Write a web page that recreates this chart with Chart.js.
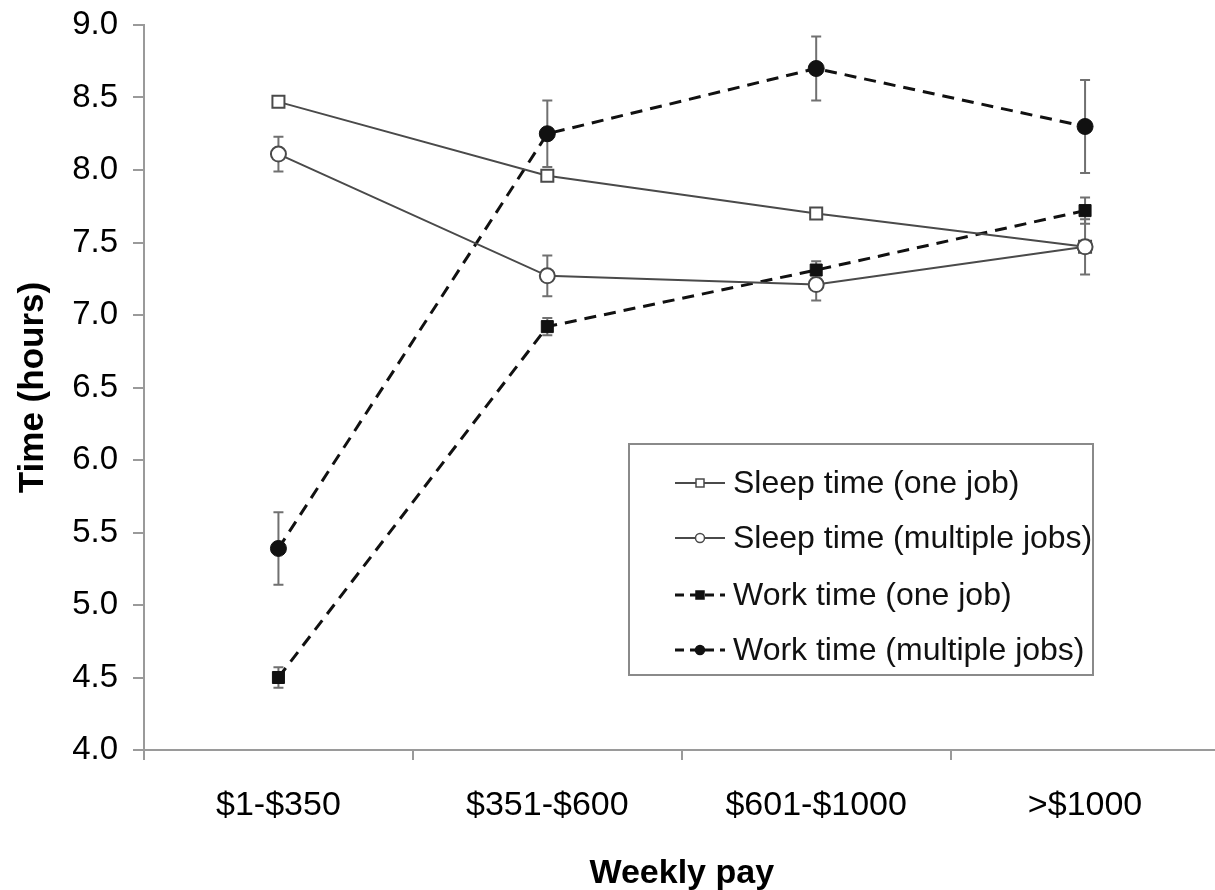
<!DOCTYPE html>
<html>
<head>
<meta charset="utf-8">
<script src="https://cdn.jsdelivr.net/npm/chart.js@4/dist/chart.umd.min.js"></script>
<style>
  html, body { margin: 0; padding: 0; background: #fff; overflow: hidden; }
  #wrap { width: 1215px; height: 890px; overflow: hidden; }
  canvas { display: block; }
</style>
</head>
<body>
<div id="wrap"><canvas id="c" width="1230" height="890"></canvas></div>
<script>
// Weekly pay bands
const categories = ['$1-$350', '$351-$600', '$601-$1000', '>$1000'];

// Mean hours per day
const sleepOneJob = [8.47, 7.96, 7.70, 7.47];
const sleepMultipleJobs = [8.11, 7.27, 7.21, 7.47];
const workOneJob = [4.50, 6.92, 7.31, 7.72];
const workMultipleJobs = [5.39, 8.25, 8.70, 8.30];

// Standard errors
const sleepOneJobErr = [0.02, 0.03, 0.03, 0.03];
const sleepMultipleJobsErr = [0.12, 0.14, 0.11, 0.19];
const workOneJobErr = [0.07, 0.06, 0.06, 0.09];
const workMultipleJobsErr = [0.25, 0.23, 0.22, 0.32];

const yTicks = [4.0, 4.5, 5.0, 5.5, 6.0, 6.5, 7.0, 7.5, 8.0, 8.5, 9.0];

const FONT = "'Liberation Sans', Arial, Helvetica, sans-serif";
const GREY = '#4a4a4a';
const AXIS = '#9a9a9a';

// Vertical error bars, drawn underneath the markers
const errorBars = {
  id: 'errorBars',
  beforeDatasetsDraw(chart) {
    const { ctx } = chart;
    const x = chart.scales.x, y = chart.scales.y;
    ctx.save();
    ctx.strokeStyle = '#707070';
    ctx.lineWidth = 2;
    ctx.setLineDash([]);
    chart.data.datasets.forEach(ds => {
      (ds.errors || []).forEach((e, j) => {
        const px = x.getPixelForValue(j);
        const top = y.getPixelForValue(ds.data[j] + e);
        const bot = y.getPixelForValue(ds.data[j] - e);
        ctx.beginPath();
        ctx.moveTo(px, top); ctx.lineTo(px, bot);
        ctx.moveTo(px - 5, top); ctx.lineTo(px + 5, top);
        ctx.moveTo(px - 5, bot); ctx.lineTo(px + 5, bot);
        ctx.stroke();
      });
    });
    ctx.restore();
  }
};

// Boxed legend placed inside the plot
const boxLegend = {
  id: 'boxLegend',
  afterDraw(chart) {
    const { ctx } = chart;
    const box = { x: 629, y: 444, w: 464, h: 231 };
    ctx.save();
    ctx.fillStyle = '#ffffff';
    ctx.fillRect(box.x, box.y, box.w, box.h);
    ctx.strokeStyle = '#8a8a8a';
    ctx.lineWidth = 2;
    ctx.strokeRect(box.x, box.y, box.w, box.h);
    const rows = [483, 538, 595, 650];
    chart.data.datasets.forEach((ds, i) => {
      const cy = rows[i];
      ctx.strokeStyle = ds.borderColor;
      ctx.lineWidth = ds.dashed ? 3 : 2;
      ctx.setLineDash(ds.dashed ? [9, 6] : []);
      ctx.beginPath();
      ctx.moveTo(675, cy); ctx.lineTo(725, cy);
      ctx.stroke();
      ctx.setLineDash([]);
      ctx.fillStyle = ds.pointBackgroundColor;
      ctx.strokeStyle = ds.pointBorderColor;
      ctx.lineWidth = 1.5;
      ctx.beginPath();
      if (ds.pointStyle === 'rect') {
        ctx.rect(696, cy - 4, 8, 8);
      } else {
        ctx.arc(700, cy, 4.5, 0, Math.PI * 2);
      }
      ctx.fill();
      ctx.stroke();
      ctx.fillStyle = '#111';
      ctx.font = '32px ' + FONT;
      ctx.textAlign = 'left';
      ctx.textBaseline = 'middle';
      ctx.fillText(ds.label, 733, cy + 1);
    });
    ctx.restore();
  }
};

const chart = new Chart(document.getElementById('c'), {
  type: 'line',
  data: {
    labels: categories,
    datasets: [
      {
        label: 'Sleep time (one job)', order: 1,
        data: sleepOneJob, errors: sleepOneJobErr,
        borderColor: GREY, borderWidth: 2,
        pointStyle: 'rect', pointRadius: 8.5, pointBorderWidth: 2,
        pointBackgroundColor: '#ffffff', pointBorderColor: GREY
      },
      {
        label: 'Sleep time (multiple jobs)', order: 0,
        data: sleepMultipleJobs, errors: sleepMultipleJobsErr,
        borderColor: GREY, borderWidth: 2,
        pointStyle: 'circle', pointRadius: 7.5, pointBorderWidth: 2,
        pointBackgroundColor: '#ffffff', pointBorderColor: GREY
      },
      {
        label: 'Work time (one job)', order: 2,
        data: workOneJob, errors: workOneJobErr, dashed: true,
        borderColor: '#111', borderWidth: 3, borderDash: [12, 8],
        pointStyle: 'rect', pointRadius: 8.5, pointBorderWidth: 1,
        pointBackgroundColor: '#111', pointBorderColor: '#111'
      },
      {
        label: 'Work time (multiple jobs)', order: 3,
        data: workMultipleJobs, errors: workMultipleJobsErr, dashed: true,
        borderColor: '#111', borderWidth: 3, borderDash: [12, 8],
        pointStyle: 'circle', pointRadius: 8, pointBorderWidth: 1,
        pointBackgroundColor: '#111', pointBorderColor: '#111'
      }
    ]
  },
  options: {
    responsive: false,
    animation: false,
    devicePixelRatio: 1,
    layout: { padding: { top: 25, right: 6, bottom: 0, left: 0 } },
    plugins: { legend: { display: false }, tooltip: { enabled: false } },
    elements: { line: { tension: 0 } },
    scales: {
      x: {
        type: 'category',
        offset: true,
        grid: { offset: true, drawOnChartArea: false, tickLength: 10, color: AXIS, lineWidth: 2 },
        border: { color: AXIS, width: 2 },
        ticks: { color: '#000', font: { family: FONT, size: 34 }, padding: 25, maxRotation: 0 },
        title: { display: true, text: 'Weekly pay', color: '#000',
                 font: { family: FONT, size: 34, weight: 'bold' }, padding: { top: 0, bottom: -4 } },
        afterFit(scale) { scale.height = 140; scale.paddingLeft = 0; scale.paddingRight = 0; }
      },
      y: {
        min: 4, max: 9,
        afterBuildTicks(scale) { scale.ticks = yTicks.map(v => ({ value: v })); },
        grid: { drawOnChartArea: false, tickLength: 11, color: AXIS, lineWidth: 2 },
        border: { color: AXIS, width: 2 },
        ticks: { color: '#000', font: { family: FONT, size: 33 }, padding: 15,
                 callback: v => Number(v).toFixed(1) },
        title: { display: true, text: 'Time (hours)', color: '#000',
                 font: { family: FONT, size: 35, weight: 'bold' }, padding: { top: 12, bottom: 0 } },
        afterFit(scale) { scale.width = 144; scale.paddingTop = 0; scale.paddingBottom = 0; }
      }
    }
  },
  plugins: [errorBars, boxLegend]
});
</script>
</body>
</html>
